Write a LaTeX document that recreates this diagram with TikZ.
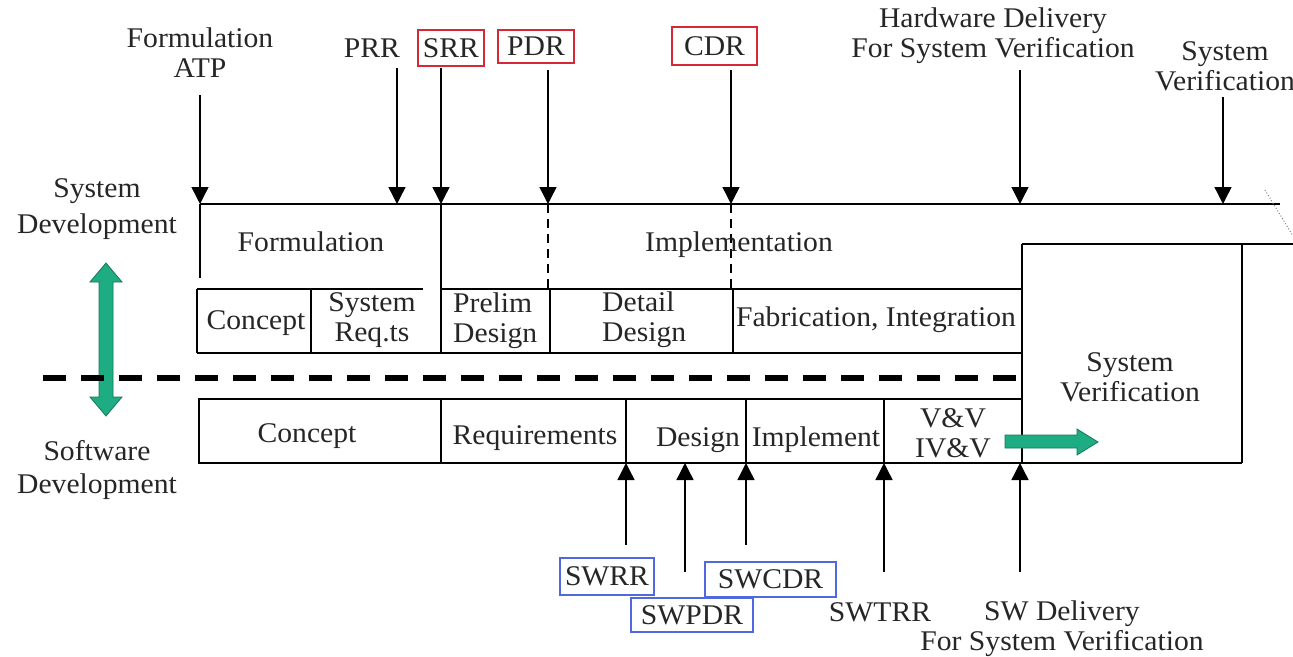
\documentclass[tikz,border=0pt]{standalone}
\usepackage{fontspec}
\setmainfont[FakeStretch=1.04]{Liberation Serif}
\usetikzlibrary{arrows.meta}
\definecolor{tgreen}{RGB}{30,172,130}
\definecolor{tgreenD}{RGB}{20,120,90}
\definecolor{redb}{RGB}{215,40,55}
\definecolor{blueb}{RGB}{80,105,225}
\begin{document}
\begin{tikzpicture}[x=1pt,y=-1pt,
  txt/.style={font=\fontsize{28.5}{30}\selectfont, align=center, inner sep=0pt, text=black!85},
  ms/.style={line width=1.4pt, -{Triangle[width=17pt,length=17pt]}},
  ln/.style={line width=1.4pt},
  dln/.style={line width=1.4pt, dash pattern=on 9pt off 6pt},
  rbox/.style={txt, draw=redb, line width=2.4pt},
  bbox/.style={txt, draw=blueb, line width=2.4pt},
  garrow/.style={fill=tgreen, draw=tgreenD, line width=0.8pt},
]
\useasboundingbox (0,0) rectangle (1293,656);

% ---------- top milestone labels ----------
\node[txt] (fatp) at (200,53) {Formulation\\ATP};
\node[txt] (prr) at (372,48) {PRR};
\node[rbox, minimum width=66pt, minimum height=36pt] (srr) at (451,48) {SRR};
\node[rbox, minimum width=76pt, minimum height=33pt] (pdr) at (536,46.5) {PDR};
\node[rbox, minimum width=85pt, minimum height=38pt] (cdr) at (714.5,46) {CDR};
\node[txt] (hwd) at (993,36) {Hardware Delivery\\For System Verification};
\node[txt] (sver) at (1225,66) {System\\Verification};

% milestone arrow coordinates
\coordinate (atpS) at (200,95);  \coordinate (atpE) at (200,204);
\coordinate (prrS) at (397,68);  \coordinate (prrE) at (397,204);
\coordinate (srrS) at (441,68);  \coordinate (srrE) at (441,204);
\coordinate (pdrS) at (548,70);  \coordinate (pdrE) at (548,204);
\coordinate (cdrS) at (731,70);  \coordinate (cdrE) at (731,204);
\coordinate (hwdS) at (1020,70); \coordinate (hwdE) at (1020,204);
\coordinate (svS) at (1223,97);  \coordinate (svE) at (1223,204);
\foreach \m in {atp,prr,srr,pdr,cdr,hwd,sv} \draw[ms] (\m S) -- (\m E);

% ---------- system development frame ----------
\draw[ln] (200,204) -- (1280,204);
\draw[gray, dotted, line width=1pt] (1265,190) -- (1293,236);
\draw[ln] (200,204) -- (200,278);
\draw[ln] (441,204) -- (441,289);
\draw[dln] (548,204) -- (548,289);
\draw[dln] (731,204) -- (731,289);

\node[txt] (form) at (311,242) {Formulation};
\node[txt] (impl) at (739,245) {Implementation};

% row 1
\draw[ln] (197,289) -- (423,289);
\draw[ln] (441,289) -- (1022,289);
\draw[ln] (197,353) -- (1022,353);
\draw[ln] (197,289) -- (197,353);
\foreach \x in {311,441,550,733} \draw[ln] (\x,289) -- (\x,353);
\node[txt] (c1) at (256,323) {Concept};
\node[txt] (sreq) at (372,320) {System\\Req.ts};
\node[txt, anchor=west, align=left] (pre) at (453,321) {Prelim\\Design};
\node[txt, anchor=west, align=left] (det) at (602,320) {Detail\\Design};
\node[txt] (fab) at (876,320) {Fabrication, Integration};

% system verification box
\draw[ln] (1022,244) -- (1293,244);
\draw[ln] (1022,244) -- (1022,463);
\draw[ln] (1242,244) -- (1242,463);
\draw[ln] (1022,463) -- (1242,463);
\node[txt] (svbox) at (1130,377) {System\\Verification};

% side labels and green double arrow
\node[txt, font=\fontsize{28.5}{36}\selectfont] (sysdev) at (97,209) {System\\Development};
\node[txt, font=\fontsize{28.5}{33}\selectfont] (swdev) at (97,470) {Software\\Development};
\draw[garrow] (106,263) -- (122,282) -- (113,282) -- (113,397) -- (122,397) -- (106,416)
  -- (90,397) -- (99,397) -- (99,282) -- (90,282) -- cycle;

% thick dashed separator
\draw[line width=5.5pt, dash pattern=on 23pt off 15pt] (43,378) -- (1016,378);

% ---------- software development row ----------
\draw[ln] (199,399) rectangle (1022,463);
\foreach \x in {441,626,746,884} \draw[ln] (\x,399) -- (\x,463);
\node[txt] (c2) at (307,436) {Concept};
\node[txt] (req) at (535,438) {Requirements};
\node[txt] (des) at (698,440) {Design};
\node[txt] (imp) at (816,440) {Implement};
\node[txt] (vv) at (953,433) {V\&V\\IV\&V};

% green right arrow
\draw[garrow] (1005,435) -- (1077,435) -- (1077,429) -- (1098,442) -- (1077,455)
  -- (1077,448) -- (1005,448) -- cycle;

% ---------- bottom milestones ----------
\node[bbox, minimum width=94pt, minimum height=37pt] (swrr) at (607,576.5) {SWRR};
\node[bbox, minimum width=131pt, minimum height=35pt] (swcdr) at (770.5,579.5) {SWCDR};
\node[bbox, minimum width=122pt, minimum height=34pt] (swpdr) at (692,615) {SWPDR};
\node[txt] (swtrr) at (880,612) {SWTRR};
\node[txt] (swdel) at (1062,629) {SW Delivery\\For System Verification};

\coordinate (b1S) at (626,545);  \coordinate (b1E) at (626,463);
\coordinate (b2S) at (685,572);  \coordinate (b2E) at (685,463);
\coordinate (b3S) at (746,545);  \coordinate (b3E) at (746,463);
\coordinate (b4S) at (884,572);  \coordinate (b4E) at (884,463);
\coordinate (b5S) at (1020,572); \coordinate (b5E) at (1020,463);
\foreach \m in {b1,b2,b3,b4,b5} \draw[ms] (\m S) -- (\m E);
\end{tikzpicture}
\end{document}
